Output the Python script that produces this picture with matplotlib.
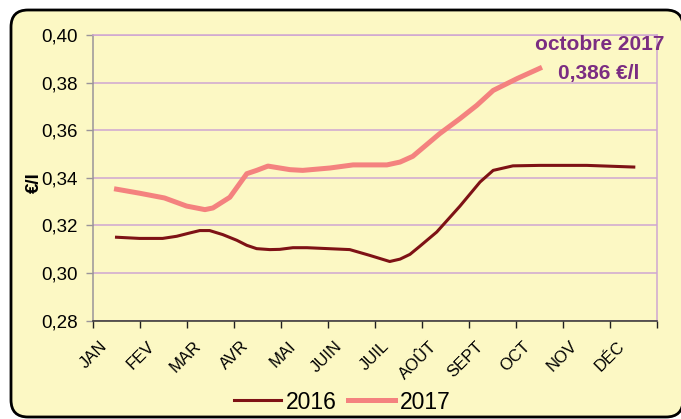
import numpy as np
import matplotlib
matplotlib.use("Agg")
import matplotlib.pyplot as plt
from matplotlib.patches import FancyBboxPatch
from matplotlib.transforms import ScaledTranslation

plt.rcParams['font.family'] = ['Liberation Sans', 'DejaVu Sans']

# month labels (category axis, JAN centre = 0)
months = ['JAN', 'FEV', 'MAR', 'AVR', 'MAI', 'JUIN', 'JUIL', 'AOÛT', 'SEPT', 'OCT', 'NOV', 'DÉC']

# 2016 price (EUR / l); x in months
x_2016 = [0.0, 0.49, 0.98, 1.28, 1.56, 1.77, 1.98, 2.26, 2.56, 2.77, 2.98, 3.26, 3.47,
          3.75, 4.05, 4.39, 4.96, 5.38, 5.81, 6.03, 6.24, 6.45, 6.81, 7.30, 7.73, 8.01,
          8.43, 9.0, 10.0, 11.0]
y_2016 = [0.3150, 0.3145, 0.3145, 0.3154, 0.3168, 0.3178, 0.3178, 0.3161, 0.3137, 0.3116,
          0.3102, 0.3098, 0.3099, 0.3106, 0.3106, 0.3103, 0.3098, 0.3074, 0.3048, 0.3058,
          0.3078, 0.3112, 0.3172, 0.3280, 0.3382, 0.3431, 0.3450, 0.3452, 0.3452, 0.3445]

# 2017 price (EUR / l)
x_2017 = [0.0, 0.49, 1.02, 1.49, 1.88, 2.05, 2.41, 2.77, 2.98, 3.22, 3.69, 3.96, 4.54,
          5.03, 5.75, 6.03, 6.30, 6.87, 7.30, 7.66, 8.01, 8.52, 9.0]
y_2017 = [0.3352, 0.3335, 0.3315, 0.3281, 0.3266, 0.3273, 0.3318, 0.3417, 0.3431, 0.3449,
          0.3434, 0.3431, 0.3441, 0.3454, 0.3454, 0.3466, 0.3490, 0.3585, 0.3648, 0.3704,
          0.3767, 0.3817, 0.3860]

bg = '#FCF8C4'
grid_col = '#CFA6D2'

fig = plt.figure(figsize=(6.81, 4.19), dpi=100)
fig.patch.set_facecolor('white')

# rounded yellow frame (right edge runs just past the image)
frame = FancyBboxPatch((11 / 681, 2 / 419), 672 / 681, 407 / 419,
                       boxstyle='round,pad=0,rounding_size=0.025',
                       transform=fig.transFigure, facecolor=bg,
                       edgecolor='black', linewidth=2, zorder=-10, mutation_aspect=681 / 419)
fig.patches.append(frame)

ax = fig.add_axes([93 / 681, 1 - 320.5 / 419, (657.3 - 93) / 681, (320.5 - 35) / 419])
ax.set_facecolor(bg)

ax.plot(x_2016, y_2016, color='#7E1215', linewidth=2.2, label='2016', zorder=3)
ax.plot(x_2017, y_2017, color='#F4827F', linewidth=3.6, label='2017', zorder=3)

ax.set_xlim(-0.5, 11.5)
ax.set_ylim(0.28, 0.40)
ax.set_yticks(np.arange(0.28, 0.401, 0.02))
ax.set_yticklabels(['0,28', '0,30', '0,32', '0,34', '0,36', '0,38', '0,40'], fontsize=13.5)
ax.yaxis.grid(True, color=grid_col, linewidth=1.1)
ax.set_axisbelow(True)

# ticks on month boundaries, labels at month centres
ax.set_xticks(np.arange(-0.5, 11.6, 1))
ax.set_xticklabels([])
ax.set_xticks(np.arange(0, 12), minor=True)
ax.set_xticklabels(months, minor=True, rotation=45, ha='right', va='top',
                   rotation_mode='anchor', fontsize=12)
ax.tick_params(axis='x', which='minor', length=0, pad=13)
ax.tick_params(axis='x', which='major', length=5, width=1, color='#202020')
ax.tick_params(axis='y', length=5, width=1, color='#9A949A', pad=6)

shift = ScaledTranslation(-17 / 100, 0, fig.dpi_scale_trans)
for lab in ax.get_xticklabels(minor=True):
    lab.set_transform(lab.get_transform() + shift)

for side in ['top', 'right']:
    ax.spines[side].set_color(grid_col)
    ax.spines[side].set_linewidth(1.1)
ax.spines['left'].set_color('#9A949A')
ax.spines['left'].set_linewidth(1.1)
ax.spines['bottom'].set_color('#303030')
ax.spines['bottom'].set_linewidth(1.1)

fig.text(34 / 681, 1 - 183 / 419, '€/l', rotation=90, fontsize=13.5, fontweight='bold',
         ha='center', va='center')

ax.text(11.64, 0.3962, 'octobre 2017', color='#7B2D82', fontsize=15, fontweight='bold',
        ha='right', va='center', clip_on=False)
ax.text(11.11, 0.3840, '0,386 €/l', color='#7B2D82', fontsize=15, fontweight='bold',
        ha='right', va='center', clip_on=False)

leg = fig.legend(loc='center', bbox_to_anchor=(342.5 / 681, 1 - 402 / 419), ncol=2,
                 frameon=False, fontsize=16.5, handlelength=2.05, handletextpad=0.2,
                 columnspacing=0.5)

fig.savefig('out.png', dpi=100, facecolor='white')
